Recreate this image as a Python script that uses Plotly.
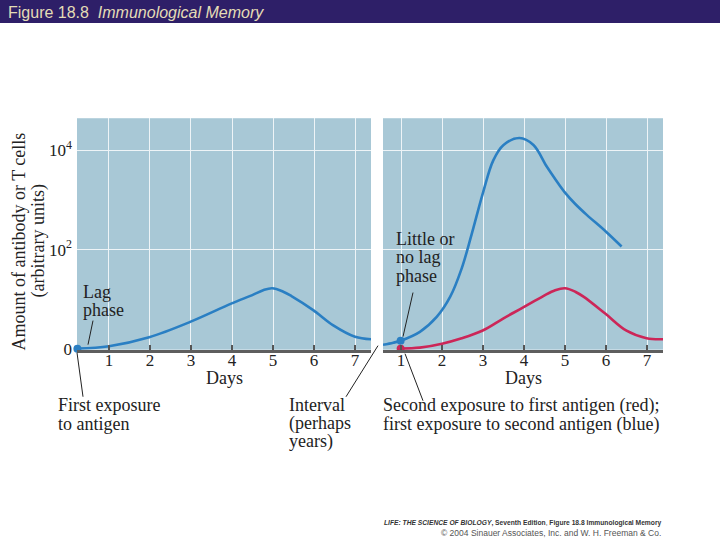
import plotly.graph_objects as go

# primary response (left panel), days vs amount (arbitrary units, log scale)
days_first = [0.23, 1.0, 1.98, 2.98, 3.98, 4.52, 4.76, 4.98, 5.25, 5.45, 5.98, 6.47, 7.0, 7.39]
amount_first = [1.0, 1.12, 1.7, 3.47, 8.1, 12.3, 15.1, 16.6, 14.1, 11.5, 6.0, 2.95, 1.74, 1.55]

# second exposure to first antigen (red, right panel)
days_second = [0.99, 1.46, 2.0, 2.48, 2.98, 3.5, 3.98, 4.47, 4.76, 5.0, 5.25, 5.45, 5.98, 6.5, 6.99, 7.39]
amount_second = [1.0, 1.05, 1.26, 1.62, 2.3, 4.1, 6.8, 11.5, 15.1, 16.6, 14.1, 11.2, 5.1, 2.3, 1.62, 1.55]

# first exposure to second antigen (blue, right panel)
days_new = [0.56, 0.81, 0.99, 1.46, 1.87, 2.2, 2.48, 2.72, 3.0, 3.25, 3.5, 3.89, 4.23, 4.55,
            4.78, 5.0, 5.25, 5.53, 6.0, 6.38]
amount_new = [1.2, 1.32, 1.45, 2.19, 4.37, 11.2, 41.7, 200, 1410, 6310, 12900, 17800, 12900, 4790,
              2510, 1410, 830, 501, 229, 115]

day_ticks = [1, 2, 3, 4, 5, 6, 7]
amount_ticks = [1, 100, 10000]
amount_labels = ["0", "10<sup>2</sup>", "10<sup>4</sup>"]

W, H = 720, 540
H_EFF = 530  # the page ends up drawn about 530px tall in the viewer
def px(x):
    return x / W
def py(y):
    return 1 - y / H_EFF

BG = "#a8c8d6"
BLUE = "#2a7fc3"
RED = "#cc2658"
SERIF = "Liberation Serif"
TXT = "#222222"

fig = go.Figure()

curve = dict(width=2.6, shape="spline", smoothing=1.0)

fig.add_trace(go.Scatter(x=days_first, y=amount_first, mode="lines",
                         line=dict(color=BLUE, **curve), xaxis="x", yaxis="y"))
fig.add_trace(go.Scatter(x=days_first[:1], y=amount_first[:1], mode="markers",
                         marker=dict(color=BLUE, size=8), cliponaxis=False,
                         xaxis="x", yaxis="y"))

fig.add_trace(go.Scatter(x=days_new, y=amount_new, mode="lines",
                         line=dict(color=BLUE, **curve), xaxis="x2", yaxis="y2"))
fig.add_trace(go.Scatter(x=days_second, y=amount_second, mode="lines",
                         line=dict(color=RED, **curve), xaxis="x2", yaxis="y2"))
fig.add_trace(go.Scatter(x=[days_new[2]], y=[amount_new[2]], mode="markers",
                         marker=dict(color=BLUE, size=8), cliponaxis=False,
                         xaxis="x2", yaxis="y2"))
fig.add_trace(go.Scatter(x=days_second[:1], y=amount_second[:1], mode="markers",
                         marker=dict(color=RED, size=8), cliponaxis=False,
                         xaxis="x2", yaxis="y2"))

xstyle = dict(tickvals=day_ticks, ticks="inside", ticklen=5, tickwidth=1.5,
              tickcolor="#555555", showgrid=True, gridcolor="#eef4f7", gridwidth=1,
              showline=True, linecolor="#5e5e5e", linewidth=2.5, zeroline=False,
              ticklabelstandoff=-7,
              tickfont=dict(family=SERIF, size=17, color=TXT))
ystyle = dict(type="log", range=[-0.02, 4.65], tickvals=amount_ticks, showgrid=True,
              gridcolor="#eef4f7", gridwidth=1, zeroline=False, showline=False, ticks="")

fig.update_layout(
    width=W, height=H, autosize=False,
    margin=dict(l=0, r=0, t=0, b=0),
    paper_bgcolor="white", plot_bgcolor=BG,
    showlegend=False,
    xaxis=dict(domain=[px(77), px(371)], range=[0.22, 7.39], anchor="y", **xstyle),
    yaxis=dict(domain=[py(349), py(118)], anchor="x", ticktext=amount_labels, ticklabelstandoff=4,
               tickfont=dict(family=SERIF, size=17, color=TXT), **ystyle),
    xaxis2=dict(domain=[px(383), px(663)], range=[0.56, 7.39], anchor="y2", **xstyle),
    yaxis2=dict(domain=[py(349), py(118)], anchor="x2", showticklabels=False, **ystyle),
)

# header bar
fig.add_shape(type="rect", xref="paper", yref="paper", x0=0, x1=1, y0=py(23), y1=1,
              fillcolor="#2e1f68", line_width=0, layer="above")
fig.add_annotation(xref="paper", yref="paper", x=px(6), y=py(12), xanchor="left", yanchor="middle",
                   text="Figure 18.8  <i>Immunological Memory</i>", showarrow=False,
                   font=dict(family="Liberation Sans", size=16, color="#e4dcb6"))

# y axis title, one line at a time
for xpos, line in [(19, "Amount of antibody or T cells"), (38, "(arbitrary units)")]:
    fig.add_annotation(xref="paper", yref="paper", x=px(xpos), y=py(241), xanchor="center",
                       yanchor="middle", text=line, textangle=-90, showarrow=False,
                       font=dict(family=SERIF, size=18, color=TXT))

def label(x, y, lines, gap=19, size=18, anchor="left"):
    for i, t in enumerate(lines):
        fig.add_annotation(xref="paper", yref="paper", x=px(x), y=py(y + i * gap),
                           xanchor=anchor, yanchor="middle", text=t, showarrow=False,
                           font=dict(family=SERIF, size=size, color=TXT))

label(224, 377, ["Days"], anchor="center")
label(523, 377, ["Days"], anchor="center")
label(81, 291, ["Lag", "phase"], gap=18)
label(394, 239, ["Little or", "no lag", "phase"], gap=18)
label(56, 404, ["First exposure", "to antigen"])
label(287, 404, ["Interval", "(perhaps", "years)"], gap=18.5)
label(381, 405, ["Second exposure to first antigen (red);", "first exposure to second antigen (blue)"])

def pointer(x0, y0, x1, y1):
    fig.add_shape(type="line", xref="paper", yref="paper",
                  x0=px(x0), y0=py(y0), x1=px(x1), y1=py(y1),
                  line=dict(color="#222222", width=1))

pointer(93, 320, 88, 344)
pointer(413, 292, 403, 336)
pointer(77, 352, 83, 396)
pointer(346, 396, 378, 345)
pointer(405, 353, 423, 400)

# footer credit
fig.add_annotation(xref="paper", yref="paper", x=px(663), y=py(522), xanchor="right", yanchor="middle",
                   text="<b><i>LIFE: THE SCIENCE OF BIOLOGY</i>, Seventh Edition</b>, <b>Figure 18.8 Immunological Memory</b>",
                   showarrow=False, font=dict(family="Liberation Sans", size=6.7, color="#333333"))
fig.add_annotation(xref="paper", yref="paper", x=px(663), y=py(532), xanchor="right", yanchor="middle",
                   text="© 2004 Sinauer Associates, Inc. and W. H. Freeman & Co.",
                   showarrow=False, font=dict(family="Liberation Sans", size=8.5, color="#555555"))

page_fix = ("document.documentElement.style.margin='0';"
            "document.body.style.margin='0';"
            "document.body.style.overflow='hidden';"
            "document.documentElement.style.overflow='hidden';")
fig.write_html("out.html", config={"displayModeBar": False, "responsive": False},
               post_script=page_fix)
